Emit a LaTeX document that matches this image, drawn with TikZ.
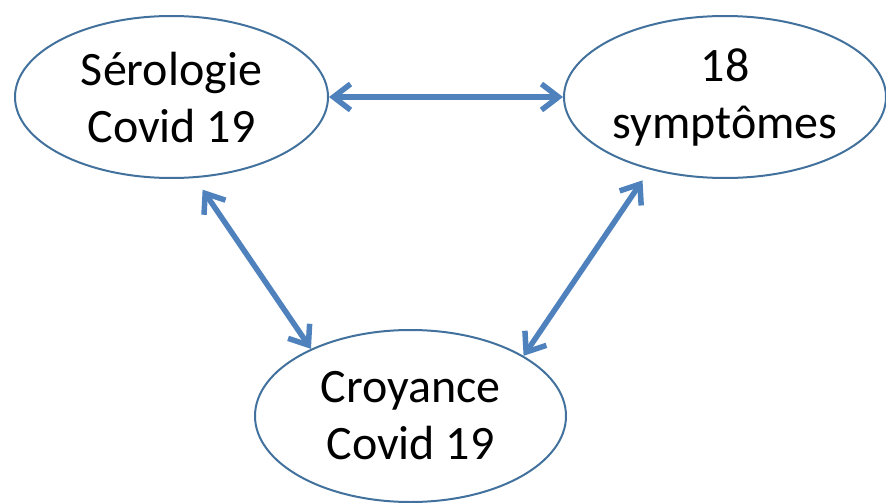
\documentclass[tikz,border=0pt]{standalone}
\usepackage{fontspec}
\setmainfont{Carlito}
\usetikzlibrary{arrows.meta, shapes.geometric}
\definecolor{covblue}{HTML}{4F81BD}
\definecolor{covedge}{HTML}{41719C}
\tikzset{
  bubble/.style={ellipse, draw=covedge, line width=2pt, inner sep=0pt, align=center,
    font=\fontsize{48}{57}\selectfont, text=black},
  link/.style={{Straight Barb[length=17pt, width=26pt]}-{Straight Barb[length=17pt, width=26pt]},
    line width=5.5pt, covblue, line cap=round},
}
\begin{document}
\begin{tikzpicture}[x=1pt, y=-1pt]
  \useasboundingbox (0,0) rectangle (886,503);
  \node[bubble, minimum width=313pt, minimum height=162pt] (sero) at (171.5,97) {Sérologie\\Covid 19};
  \node[bubble, minimum width=322pt, minimum height=162pt] (symp) at (725,97) {18\\symptômes};
  \node[bubble, minimum width=311pt, minimum height=172pt] (croy) at (410.5,416) {Croyance\\Covid 19};
  \foreach \a/\b/\s/\e in {sero.0/symp.180/0pt/0pt, sero.-74.6/croy.146/14pt/0pt, croy.28.8/symp.-136.5/0pt/13pt}
    \draw[link, shorten <=\s, shorten >=\e] (\a) -- (\b);
\end{tikzpicture}
\end{document}
